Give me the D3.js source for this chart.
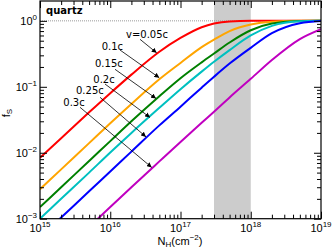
<!DOCTYPE html>
<html>
<head>
<meta charset="utf-8">
<script src="https://cdn.jsdelivr.net/npm/d3@7"></script>
<style>
  body { margin: 0; background: #fff; }
  svg { display: block; }
  .lbl { font-family: "Liberation Sans", Arial, sans-serif; font-size: 11px; fill: #000; }
  .ann { font-family: "DejaVu Sans", Verdana, sans-serif; font-size: 10px; fill: #000; }
</style>
</head>
<body>
<div id="graph"></div>
<script>
// column density N_H (cm^-2) where the curves were read
var columnDensity = [1e15, 2e15, 5e15, 1e16, 2e16, 5e16, 1e17, 2e17, 3e17, 5e17, 1e18, 2e18, 5e18, 1e19];

// f_S, one list per speed
var fsV005 = [0.0084, 0.0166, 0.041, 0.080, 0.153, 0.34, 0.55, 0.80, 0.91, 0.98, 1.0, 1.0, 1.0, 1.0];
var fsV010 = [0.0028, 0.0056, 0.014, 0.028, 0.055, 0.13, 0.23, 0.40, 0.52, 0.70, 0.88, 0.97, 1.0, 1.0];
var fsV015 = [0.0015, 0.0030, 0.0075, 0.015, 0.030, 0.072, 0.135, 0.235, 0.32, 0.47, 0.72, 0.91, 0.995, 1.0];
var fsV020 = [0.0010, 0.0020, 0.0050, 0.0101, 0.020, 0.048, 0.092, 0.17, 0.24, 0.36, 0.60, 0.84, 0.985, 1.0];
var fsV025 = [0.00052, 0.00104, 0.0026, 0.0052, 0.0104, 0.026, 0.050, 0.097, 0.142, 0.225, 0.39, 0.65, 0.92, 0.993];
var fsV030 = [0.00015, 0.00030, 0.00075, 0.0015, 0.0030, 0.0074, 0.0146, 0.0285, 0.042, 0.069, 0.132, 0.255, 0.53, 0.75];

var seriesNames = ["v=0.05c", "0.1c", "0.15c", "0.2c", "0.25c", "0.3c"];
var seriesValues = [fsV005, fsV010, fsV015, fsV020, fsV025, fsV030];
var seriesColors = ["#ff0000", "#ffa500", "#008000", "#00c0c0", "#0000ff", "#c000c0"];

// arrow tips (N, f) for each label
var arrowTipN = [4.58e16, 4.99e16, 4.48e16, 3.68e16, 3.23e16, 3.89e16];
var arrowTipF = [0.327, 0.137, 0.0666, 0.0343, 0.0174, 0.0060];

// shaded band
var bandRange = [3e17, 1e18];

// tick labels
var xTickValues = [1e15, 1e16, 1e17, 1e18, 1e19];
var xTickExponents = ["15", "16", "17", "18", "19"];
var yTickValues = [1e-3, 1e-2, 1e-1, 1];
var yTickExponents = ["\u22123", "\u22122", "\u22121", "0"];

// Set SVGs dimensions and margins
var margin = { top: 1, right: 11, bottom: 30.3, left: 40 },
    width = 332 - margin.left - margin.right,
    height = 249 - margin.top - margin.bottom;

// Setup ranges
var x = d3.scaleLog().domain([1e15, 1e19]).range([0, width]),
    y = d3.scaleLog().domain([1e-3, 2]).range([height, 0]);

var svg = d3.select("#graph").append("svg")
    .attr("width", 332)
    .attr("height", 249)
    .append("g")
    .attr("transform", "translate(" + margin.left + "," + margin.top + ")");

var defs = svg.append("defs");
defs.append("clipPath")
    .attr("id", "plotclip")
    .append("rect")
    .attr("width", width)
    .attr("height", height);

defs.append("marker")
    .attr("id", "head")
    .attr("viewBox", "0 0 10 10")
    .attr("refX", 10)
    .attr("refY", 5)
    .attr("markerWidth", 5)
    .attr("markerHeight", 5)
    .attr("markerUnits", "userSpaceOnUse")
    .attr("orient", "auto")
    .append("path")
    .attr("d", "M0,0L10,5L0,10z")
    .attr("fill", "#000");

// Gray band
svg.append("rect")
    .attr("x", x(bandRange[0]))
    .attr("y", 0)
    .attr("width", x(bandRange[1]) - x(bandRange[0]))
    .attr("height", height)
    .attr("fill", "#cccccc");

// Dotted line at f = 1
svg.append("line")
    .attr("x1", 0).attr("x2", width)
    .attr("y1", y(1)).attr("y2", y(1))
    .attr("stroke", "#999")
    .attr("stroke-width", 1)
    .attr("stroke-dasharray", "1,1");

// Curves
var valueline = d3.line()
    .x(function (d) { return x(d[0]); })
    .y(function (d) { return y(d[1]); })
    .curve(d3.curveMonotoneX);

var curves = svg.append("g").attr("clip-path", "url(#plotclip)");
seriesValues.forEach(function (vals, i) {
    var pts = columnDensity.map(function (n, j) { return [n, vals[j]]; });
    curves.append("path")
        .datum(pts)
        .attr("fill", "none")
        .attr("stroke", seriesColors[i])
        .attr("stroke-width", 2)
        .attr("d", valueline);
});

// Labels and arrows (text at fixed spots, arrow ends on the curves)
var labelPos = [[126, 37.5], [101.7, 49.5], [95, 67], [93.3, 82.5], [76, 93.5], [63.3, 106]];
var arrowTail = [[140, 39.3], [120, 50], [115, 69.3], [105, 84], [100, 97.3], [80, 107.3]];
seriesNames.forEach(function (name, i) {
    svg.append("text")
        .attr("class", "ann")
        .attr("x", labelPos[i][0] - margin.left)
        .attr("y", labelPos[i][1] - margin.top)
        .text(name);
    svg.append("line")
        .attr("x1", arrowTail[i][0] - margin.left)
        .attr("y1", arrowTail[i][1] - margin.top)
        .attr("x2", x(arrowTipN[i]))
        .attr("y2", y(arrowTipF[i]))
        .attr("stroke", "#000")
        .attr("stroke-width", 0.8)
        .attr("marker-end", "url(#head)");
});

// Minor tick values
var xMinor = [], yMinor = [];
for (var e = 15; e < 19; e++) {
    for (var m = 2; m <= 9; m++) xMinor.push(m * Math.pow(10, e));
}
for (var e2 = -3; e2 < 0; e2++) {
    for (var m2 = 2; m2 <= 9; m2++) yMinor.push(m2 * Math.pow(10, e2));
}

// Inward ticks on all four sides, major and minor
var axisSides = [
    { make: d3.axisBottom, scale: x, at: "translate(0," + height + ")", major: xTickValues, minor: xMinor },
    { make: d3.axisTop, scale: x, at: "translate(0,0)", major: xTickValues, minor: xMinor },
    { make: d3.axisLeft, scale: y, at: "translate(0,0)", major: yTickValues, minor: yMinor },
    { make: d3.axisRight, scale: y, at: "translate(" + width + ",0)", major: yTickValues, minor: yMinor }
];
axisSides.forEach(function (a) {
    [[a.major, 7], [a.minor, 4]].forEach(function (p) {
        svg.append("g")
            .attr("transform", a.at)
            .call(a.make(a.scale).tickValues(p[0]).tickSizeInner(-p[1]).tickSizeOuter(0).tickFormat(""))
            .call(function (g) { g.select(".domain").remove(); });
    });
});
svg.selectAll(".tick line").attr("stroke", "#000").attr("stroke-width", 1);

// Frame
svg.append("rect")
    .attr("width", width)
    .attr("height", height)
    .attr("fill", "none")
    .attr("stroke", "#000")
    .attr("stroke-width", 1.2);

// X tick labels
xTickValues.forEach(function (v, i) {
    var t = svg.append("text")
        .attr("class", "lbl")
        .attr("x", x(v))
        .attr("y", 232 - margin.top)
        .attr("text-anchor", "middle");
    t.append("tspan").text("10");
    t.append("tspan").attr("dy", -5).attr("font-size", "8px").text(xTickExponents[i]);
});

// Y tick labels
yTickValues.forEach(function (v, i) {
    var t = svg.append("text")
        .attr("class", "lbl")
        .attr("x", -3)
        .attr("y", y(v) + 4)
        .attr("text-anchor", "end");
    t.append("tspan").text("10");
    t.append("tspan").attr("dy", -5).attr("font-size", "8px").text(yTickExponents[i]);
});

// Axis titles
var xt = svg.append("text")
    .attr("class", "lbl")
    .attr("x", 180 - margin.left)
    .attr("y", 245 - margin.top)
    .attr("text-anchor", "middle");
xt.append("tspan").text("N");
xt.append("tspan").attr("dy", 2).attr("font-size", "8px").text("H");
xt.append("tspan").attr("dy", -2).text("(cm");
xt.append("tspan").attr("dy", -5).attr("font-size", "8px").text("\u22122");
xt.append("tspan").attr("dy", 5).text(")");

var yt = svg.append("text")
    .attr("class", "lbl")
    .attr("transform", "translate(" + (10 - margin.left) + "," + (113 - margin.top) + ") rotate(-90)")
    .attr("text-anchor", "middle");
yt.append("tspan").text("f");
yt.append("tspan").attr("dy", 2).attr("font-size", "8px").text("S");

// Panel name
svg.append("text")
    .attr("x", 6)
    .attr("y", 13)
    .attr("font-family", "DejaVu Sans, Verdana, sans-serif")
    .attr("font-weight", "bold")
    .attr("font-size", "10px")
    .text("quartz");
</script>
</body>
</html>
